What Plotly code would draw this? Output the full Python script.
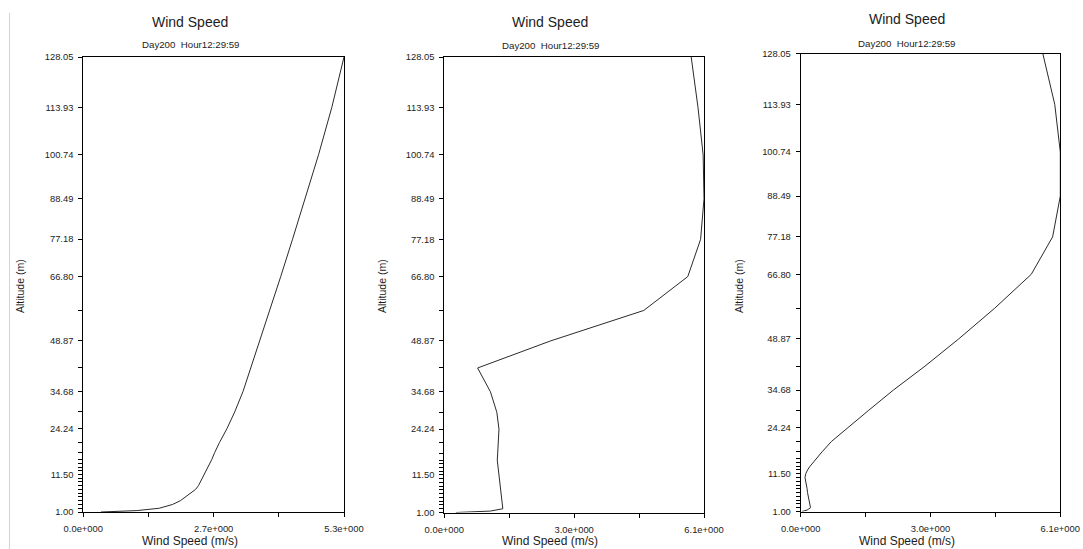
import plotly.graph_objects as go

# Model level heights (m) used for the altitude axis ticks
levels = [1.00, 2.05, 3.10, 4.15, 5.20, 6.25, 7.30, 8.35, 9.40, 10.45, 11.50,
          12.53, 13.56, 14.58, 15.61, 17.55, 20.43, 24.24, 28.95, 34.68, 41.31,
          48.87, 57.36, 66.80, 77.18, 88.49, 100.74, 113.93, 128.05]
labelled_levels = [1.00, 11.50, 24.24, 34.68, 48.87, 66.80, 77.18, 88.49,
                   100.74, 113.93, 128.05]

# Profile sample heights (m)
altitude = [1.00, 1.40, 2.05, 3.10, 4.15, 5.20, 6.25, 7.30, 8.35, 9.40, 10.45,
            11.50, 12.53, 13.56, 14.58, 15.61, 17.55, 20.43, 24.24, 28.95,
            34.68, 41.31, 48.87, 57.36, 66.80, 77.18, 88.49, 100.74, 113.93,
            128.05]

# Wind speed profiles (m/s)
speed_a = [0.36, 1.10, 1.55, 1.82, 1.98, 2.09, 2.20, 2.29, 2.35, 2.39, 2.43,
           2.47, 2.51, 2.54, 2.58, 2.62, 2.68, 2.78, 2.93, 3.09,
           3.26, 3.42, 3.60, 3.81, 4.03, 4.27, 4.52, 4.80, 5.07, 5.32]
speed_b = [0.27, 1.08, 1.37, 1.36, 1.35, 1.34, 1.33, 1.32, 1.31, 1.30, 1.28,
           1.27, 1.26, 1.25, 1.25, 1.24, 1.25, 1.27, 1.28, 1.23,
           1.08, 0.78, 2.49, 4.67, 5.70, 6.00, 6.08, 6.06, 5.94, 5.78]
speed_c = [0.03, 0.15, 0.23, 0.21, 0.20, 0.18, 0.16, 0.15, 0.13, 0.11, 0.10,
           0.12, 0.16, 0.22, 0.29, 0.36, 0.50, 0.72, 1.10, 1.58,
           2.17, 2.91, 3.70, 4.54, 5.40, 5.90, 6.08, 6.08, 5.95, 5.67]

title = "Wind Speed"
subtitle = "Day200  Hour12:29:59"
x_title = "Wind Speed (m/s)"
y_title = "Altitude (m)"

W, H = 1083, 549
FONT = "Liberation Sans, Arial, sans-serif"
INK = "#1c1c1c"


def px_x(x):
    return x / W


def px_y(y):
    return 1 - y / H


def sci(v):
    mant, exp = f"{v:.1e}".split("e")
    return f"{mant}e{int(exp):+04d}"


# panel boxes in pixels: left, right, top, bottom, and text anchors
panels = [
    dict(data=speed_a, box=(83.3, 344.0, 57.0, 512.0), cx=190, ty=21.5, sy=45.0, yx=20),
    dict(data=speed_b, box=(444.3, 704.0, 57.0, 512.5), cx=550, ty=22.0, sy=45.5, yx=382),
    dict(data=speed_c, box=(800.7, 1060.3, 53.5, 511.5), cx=906.5, ty=19.0, sy=43.0, yx=739),
]

fig = go.Figure()
annotations = []
layout = {}

for i, p in enumerate(panels, start=1):
    sfx = "" if i == 1 else str(i)
    l, r, t, b = p["box"]
    xmax = max(p["data"])
    fig.add_trace(go.Scatter(
        x=p["data"], y=altitude, mode="lines",
        line=dict(color="#2a2a2a", width=1),
        xaxis="x" + sfx, yaxis="y" + sfx, showlegend=False,
        hoverinfo="x+y",
    ))
    layout["xaxis" + sfx] = dict(
        domain=[px_x(l), px_x(r)], anchor="y" + sfx, range=[0, xmax],
        automargin=False,
        showgrid=False, zeroline=False, showline=True, mirror=True,
        linecolor="#000", linewidth=1, ticks="outside", ticklen=4,
        tickcolor="#000", tickmode="array", ticklabelstandoff=4,
        tickvals=[0, xmax / 4, xmax / 2, 3 * xmax / 4, xmax],
        ticktext=[sci(0.0), "", sci(xmax / 2), "", sci(xmax)],
        tickfont=dict(family=FONT, size=9.4, color=INK),
    )
    layout["yaxis" + sfx] = dict(
        domain=[px_y(b), px_y(t)], anchor="x" + sfx,
        range=[levels[0], levels[-1]], automargin=False,
        showgrid=False, zeroline=False, showline=True, mirror=True,
        linecolor="#000", linewidth=1, ticks="outside", ticklen=4,
        tickcolor="#000", tickmode="array", ticklabelstandoff=3,
        tickvals=labelled_levels,
        ticktext=[f"{v:.2f}" for v in labelled_levels],
        tickfont=dict(family=FONT, size=9.4, color=INK),
        minor=dict(tickmode="array", tickvals=levels, ticks="outside",
                   ticklen=4, tickcolor="#000", showgrid=False),
    )
    annotations += [
        dict(text=title, x=px_x(p["cx"]), y=px_y(p["ty"]), xref="paper", yref="paper",
             showarrow=False, xanchor="center", yanchor="middle",
             font=dict(family=FONT, size=14, color=INK)),
        dict(text=subtitle, x=px_x(p["cx"]), y=px_y(p["sy"]), xref="paper", yref="paper",
             showarrow=False, xanchor="center", yanchor="middle",
             font=dict(family=FONT, size=9.7, color=INK)),
        dict(text=x_title, x=px_x(p["cx"]), y=px_y(541), xref="paper", yref="paper",
             showarrow=False, xanchor="center", yanchor="middle",
             font=dict(family=FONT, size=12, color=INK)),
        dict(text=y_title, x=px_x(p["yx"]), y=px_y(286), xref="paper", yref="paper",
             showarrow=False, xanchor="center", yanchor="middle", textangle=-90,
             font=dict(family=FONT, size=10.5, color=INK)),
    ]

fig.update_layout(
    width=W, height=H, margin=dict(l=0, r=0, t=0, b=0, autoexpand=False),
    paper_bgcolor="white", plot_bgcolor="white",
    annotations=annotations,
    shapes=[dict(type="line", xref="paper", yref="paper",
                 x0=px_x(9.5), x1=px_x(9.5), y0=0, y1=px_y(13),
                 line=dict(color="#d4d4d4", width=1))],
    **layout,
)

fig.write_html("out.html")
